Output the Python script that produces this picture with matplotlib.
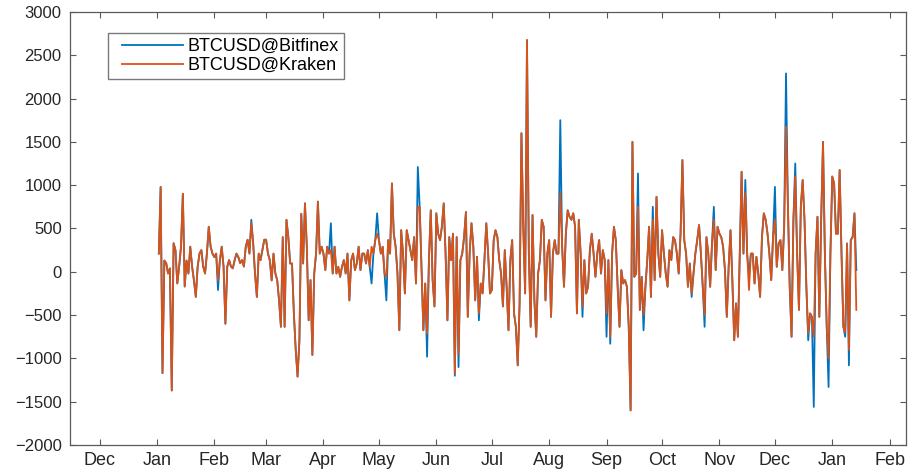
import numpy as np
import pandas as pd
import matplotlib
matplotlib.use("Agg")
import matplotlib.pyplot as plt
import matplotlib.dates as mdates
from matplotlib.legend_handler import HandlerLine2D

plt.rcParams['font.family'] = ['Liberation Sans', 'DejaVu Sans']

# daily price change (USD), first value is 2 Jan 2018
start = "2018-01-02"

kraken = [
    # Jan - early Mar
    210, 980, -1170, 130, 100, -20, 40, -1370, 330, 250,
    -135, 60, 290, 900, -170, 130, -20, 290, 60, -100,
    -290, 60, 210, 250, 60, -20, 210, 520, 290, 210,
    170, 210, -100, 130, 290, 60, -600, 60, 135, 60,
    40, 135, 210, 170, 100, 135, 60, 290, 370, 210,
    560, 330, -20, -290, 210, 135, 250, 370, 370, 210,
    135, -100,
    # Mar - early May
    210, -20, -96, -330, -635, 400, -635, 600, 400, 96,
    96, -480, -900, -1210, -790, 670, 96, 790, 290, -560,
    -96, -960, -20, 210, 810, 210, 290, 210, 20, 290,
    210, 250, -20, 290, -20, 58, -58, 58, 135, -20,
    210, -330, 135, 210, 20, 96, 290, 20, 210, 210,
    96, 250, 58, 290, 210, 366, 440, 366, 210, 290,
    -20, -58, 366, 210, 1020, 440,
    # May - Jul
    290, -20, -675, 480, 210, -250, 480, 366, 250, 135,
    400, -135, 750, 750, 20, -675, -135, -710, 135, 710,
    -96, -400, 675, 440, 366, 520, 790, 210, -560, 400,
    135, 440, -1175, 400, -950, 135, 210, 400, 690, -520,
    210, 560, 290, -330, 173, -480, -135, -250, 135, 560,
    210, -250, -210, 366, 480, 400, 135, -20, -400, 250,
    -173, -675, 135, 366,
    # Jul - Sep
    -480, -635, -1080, -365, 1600, 520, -250, 2675, 210, -635,
    655, -330, -750, -20, 135, 600, 520, -330, 210, 366,
    -520, 210, 366, 210, 210, 905, 290, -173, 440, 710,
    635, 600, 675, 520, -480, 600, 210, -400, 135, -250,
    -173, 250, 440, 210, -58, 210, 366, -20, 250, 135,
    -480, 135, -750, 210, 520, 366, -173, -635, 20, -135,
    -96, -173, -635,
    # Sep - Nov
    -1600, 1500, -58, -20, 750, -440, -58, -500, -173, 135,
    520, -290, 600, -96, 865, 210, -58, 480, 210, -20,
    -173, 250, 135, 400, 366, 210, -20, 440, 1290, 366,
    210, -173, 96, -250, -20, 210, 366, 540, 210, -173,
    -500, 400, 210, -173, 327, 600, 20, 520, 440, 400,
    290, 20, -520, 58, 480, -96, -790, -365, -750, 210,
    1155, 210, 905, 210, -210, 210,
    # Nov - Jan
    210, -135, 173, -20, -290, 400, 675, 600, 440, 210,
    -96, 400, 600, 58, 327, 366, 20, 520, 1675, 790,
    -173, -750, 600, 1100, 210, -440, 750, 1060, 600, -173,
    -710, -480, -520, -750, 210, 635, -520, 600, 1500, 210,
    -635, -1000, 210, 1100, 1020, 440, 440, 1175, 210, -635,
    -700, 327, -900, 366, 400, 675, -440,
]

# days where the Bitfinex change differs from Kraken (index into kraken)
bitfinex_diff = {
    32: -210, 50: 600, 93: 560, 115: -135, 118: 675, 123: -330,
    140: 1210, 145: -980, 160: -1200, 162: -1100, 173: -560,
    217: 1750, 229: -520, 242: -750, 244: -830,
    259: 1135, 262: -675, 267: 750, 288: -290, 295: -635, 300: 750,
    317: 1060, 319: -58,
    333: 980, 339: 2290, 344: 1250, 351: -790, 354: -1560,
    362: -1330, 371: -750, 373: -1080, 377: 20,
}

bitfinex = list(kraken)
for i, v in bitfinex_diff.items():
    bitfinex[i] = v

dates = pd.date_range(start, periods=len(kraken), freq="D")

fig = plt.figure(figsize=(9.09, 4.76), dpi=100)
ax = fig.add_axes([0.077, 0.065, 0.92, 0.91])

ax.plot(dates, bitfinex, color="#0072BD", lw=1.3, label="BTCUSD@Bitfinex")
ax.plot(dates, kraken, color="#D95319", lw=1.3, label="BTCUSD@Kraken")

ax.set_xlim(pd.Timestamp("2017-11-15"), pd.Timestamp("2019-02-10"))
ax.set_ylim(-2000, 3000)
ax.set_yticks(np.arange(-2000, 3001, 500))
ax.xaxis.set_major_locator(mdates.MonthLocator())
ax.xaxis.set_major_formatter(mdates.DateFormatter("%b"))

ax.tick_params(direction="in", length=4, width=0.8, top=True, right=True,
               colors="#595959", labelcolor="#262626")
ax.tick_params(axis="y", labelsize=12, pad=6)
ax.tick_params(axis="x", labelsize=13, pad=5)
for s in ax.spines.values():
    s.set_color("#595959")
    s.set_linewidth(0.9)

leg = ax.legend(loc="upper left", bbox_to_anchor=(0.0455, 0.9515), fancybox=False,
                edgecolor="#595959", fontsize=13, handlelength=3.85,
                borderpad=0.28, labelspacing=0.11, handletextpad=0.28,
                borderaxespad=0,
                handler_map={ln: HandlerLine2D(xpad=0.5) for ln in ax.get_lines()})
leg.get_frame().set_linewidth(1.0)

fig.savefig("out.png", dpi=100)
